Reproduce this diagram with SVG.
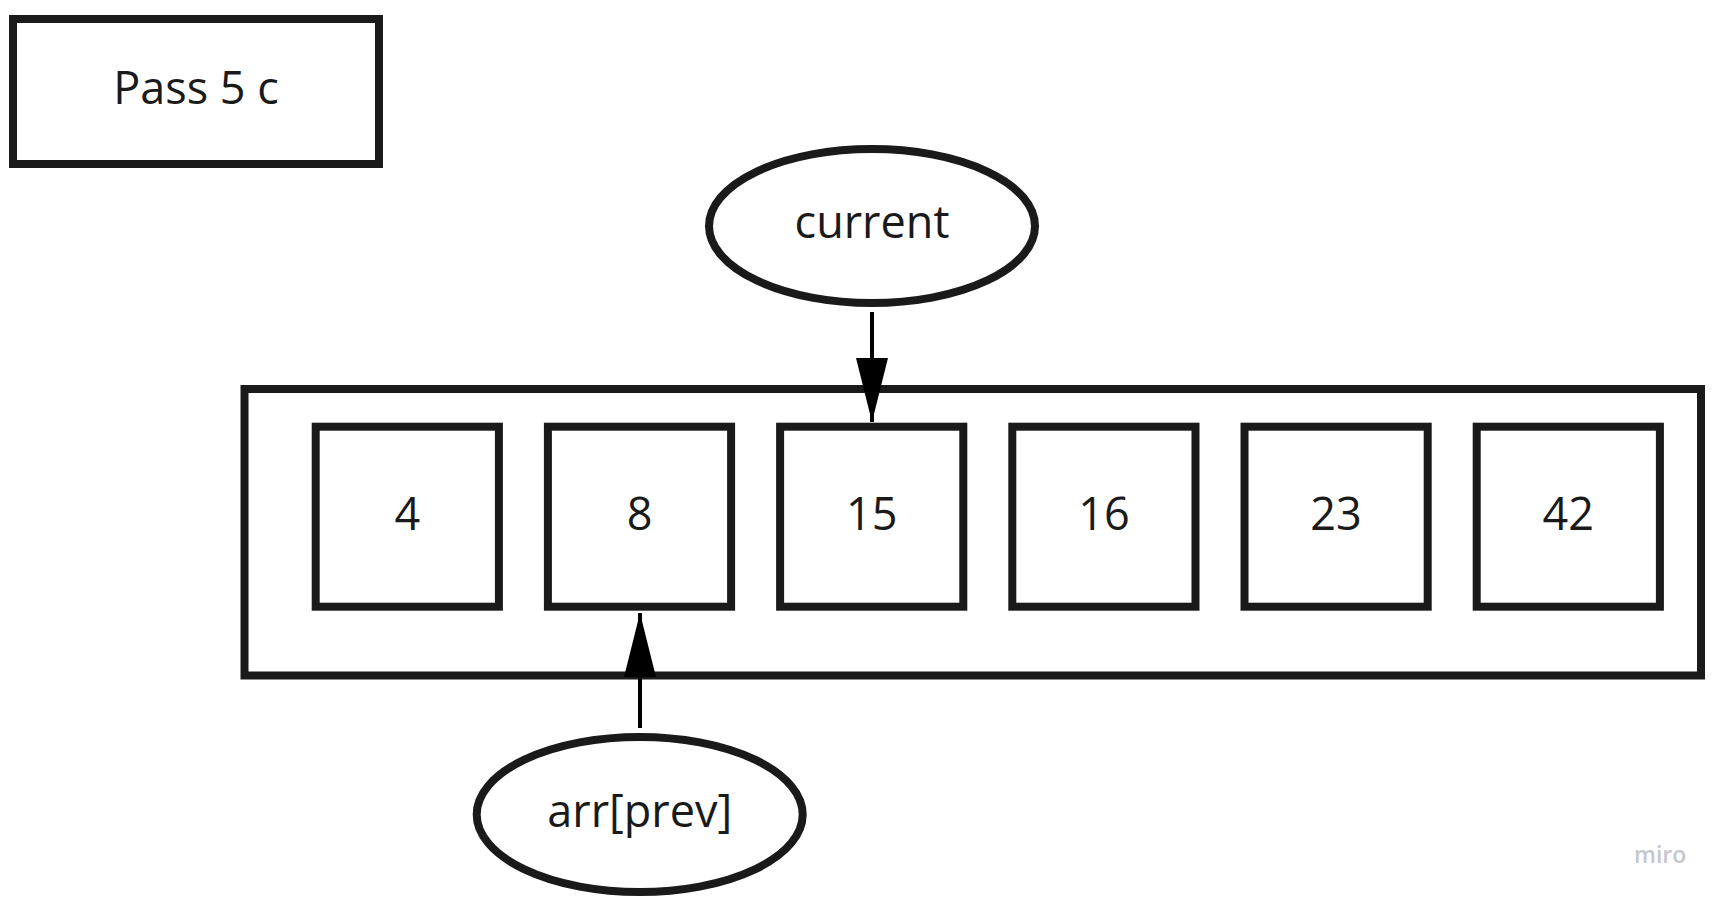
<svg xmlns="http://www.w3.org/2000/svg" width="1726" height="904" viewBox="0 0 1726 904">
  <style>
    .shape { fill: #ffffff; stroke: #1a1a1a; stroke-width: 8; }
    .label { font-family: "Open Sans", "Liberation Sans", sans-serif; font-size: 45px; font-weight: 380; fill: #1a1a1a; text-anchor: middle; }
    .conn { stroke: #000000; stroke-width: 4; fill: none; }
    .wm { font-family: "Open Sans", "Liberation Sans", sans-serif; font-size: 23px; fill: #c6c7cc; font-weight: 600; }
  </style>
  <defs>
    <marker id="arrow" markerUnits="userSpaceOnUse" markerWidth="64" markerHeight="32" refX="64" refY="16" orient="auto" viewBox="0 0 64 32">
      <path d="M0,0 L64,16 L0,32 Z" fill="#000000"/>
    </marker>
  </defs>
  <rect width="1726" height="904" fill="#ffffff"/>

  <g id="title">
    <rect class="shape" x="13" y="19" width="366" height="145"/>
    <text class="label" x="196" y="104">Pass 5 c</text>
  </g>

  <g id="array">
    <rect class="shape" x="244.5" y="389" width="1456.5" height="286.5"/>
  </g>

  <g id="cell-4">
    <rect class="shape" x="315.7" y="426.7" width="183.2" height="180"/>
    <text class="label" x="407.3" y="530">4</text>
  </g>
  <g id="cell-8">
    <rect class="shape" x="547.9" y="426.7" width="183.2" height="180"/>
    <text class="label" x="639.5" y="530">8</text>
  </g>
  <g id="cell-15">
    <rect class="shape" x="780.1" y="426.7" width="183.2" height="180"/>
    <text class="label" x="871.7" y="530">15</text>
  </g>
  <g id="cell-16">
    <rect class="shape" x="1012.3" y="426.7" width="183.2" height="180"/>
    <text class="label" x="1103.9" y="530">16</text>
  </g>
  <g id="cell-23">
    <rect class="shape" x="1244.5" y="426.7" width="183.2" height="180"/>
    <text class="label" x="1336.1" y="530">23</text>
  </g>
  <g id="cell-42">
    <rect class="shape" x="1476.7" y="426.7" width="183.2" height="180"/>
    <text class="label" x="1568.3" y="530">42</text>
  </g>

  <g id="current">
    <ellipse class="shape" cx="872" cy="226" rx="163" ry="77"/>
    <text class="label" x="872" y="238">current</text>
  </g>

  <g id="arr-prev">
    <ellipse class="shape" cx="639.7" cy="814.5" rx="163" ry="77.5"/>
    <text class="label" x="639.7" y="826.7">arr[prev]</text>
  </g>

  <g id="connectors">
    <line class="conn" x1="872" y1="312" x2="872" y2="422" marker-end="url(#arrow)"/>
    <line class="conn" x1="640" y1="728" x2="640" y2="613" marker-end="url(#arrow)"/>
  </g>

  <text class="wm" x="1634" y="863">miro</text>
</svg>
